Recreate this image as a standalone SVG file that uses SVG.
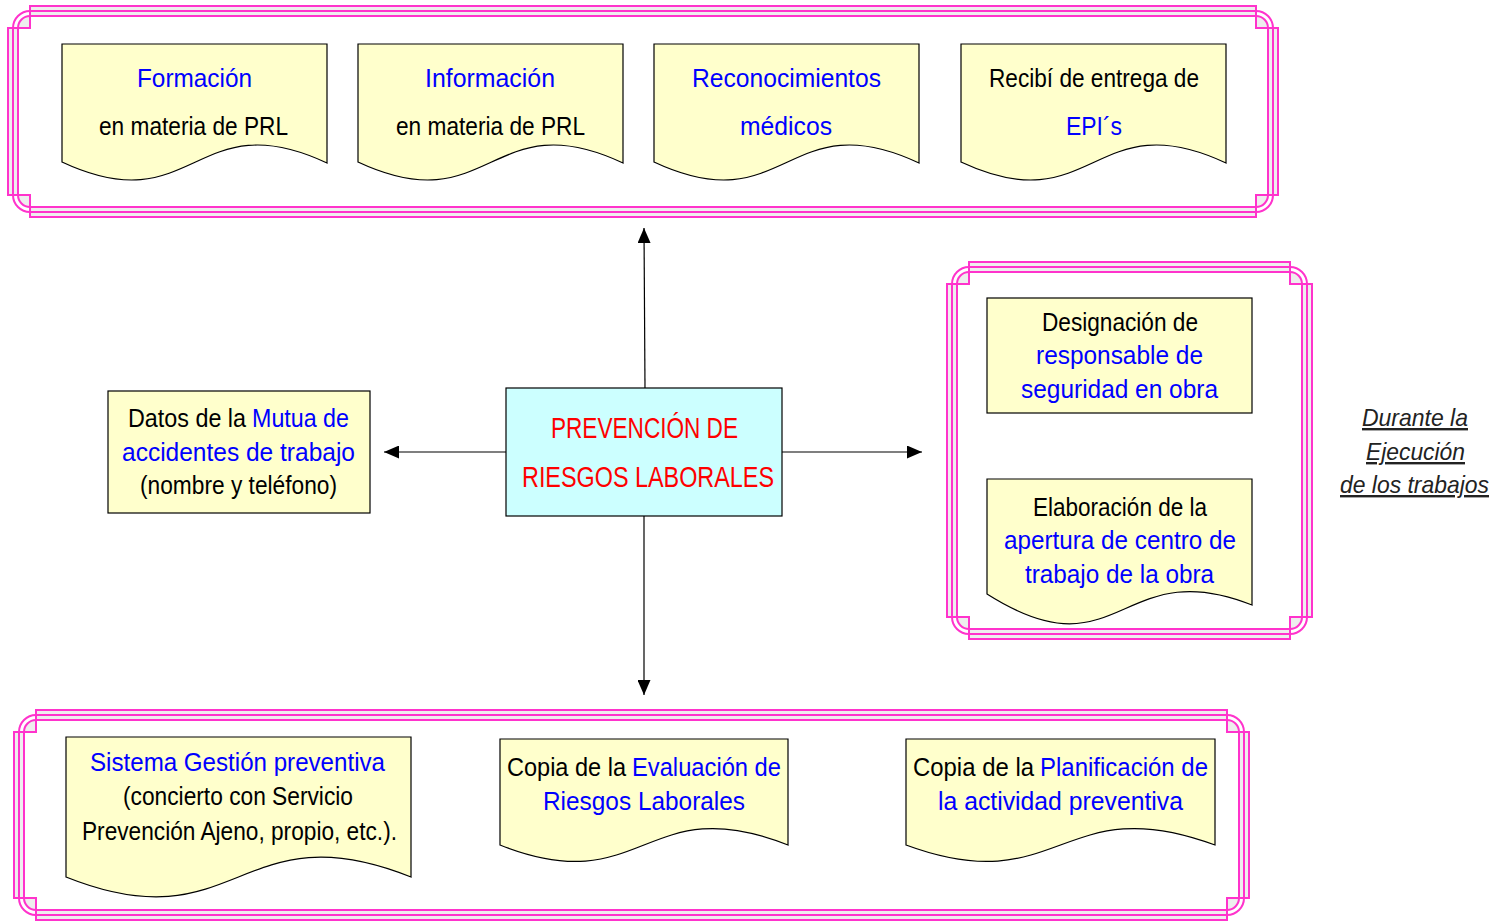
<svg xmlns="http://www.w3.org/2000/svg" width="1495" height="921" viewBox="0 0 1495 921">
<defs>
<style>
.frameBand{fill:#eeeeee;fill-rule:evenodd;stroke:none}
.frameLine{fill:none;stroke:#ff33cc;stroke-width:2}
.doc{fill:#ffffcc;stroke:#000;stroke-width:1.2}
.ctr{fill:#ccffff;stroke:#000;stroke-width:1.2}
.t{font-family:"Liberation Sans Narrow","Liberation Sans",Arial,sans-serif;font-size:25.5px}
.k{fill:#000}
.b{fill:#0000ff}
.r{fill:#ff0000;font-size:30px}
.it{font-style:italic;font-size:24px;fill:#222;text-decoration:underline}
.conn{fill:none;stroke:#000;stroke-width:1.2}
</style>
<marker id="arr" viewBox="0 0 15 13" refX="15" refY="6.5" markerWidth="15" markerHeight="13" markerUnits="userSpaceOnUse" orient="auto">
<path d="M0,0 L15,6.5 L0,13 Z" fill="#000"/>
</marker>
</defs>
<rect width="1495" height="921" fill="#fff"/>

<g id="frame-top">
<path class="frameBand" d="M8,28 H30 V6 H1256 V28 H1278 V195 H1256 V217 H30 V195 H8 Z M30,16 H1256 A12,12 0 0 1 1268,28 V195 A12,12 0 0 1 1256,207 H30 A12,12 0 0 1 18,195 V28 A12,12 0 0 1 30,16 Z"/>
<path class="frameLine" d="M8,28 H30 V6 H1256 V28 H1278 V195 H1256 V217 H30 V195 H8 Z"/>
<rect class="frameLine" x="13" y="11" width="1260" height="201" rx="17"/>
<rect class="frameLine" x="18" y="16" width="1250" height="191" rx="12"/>
</g>
<g id="frame-right">
<path class="frameBand" d="M947,284 H969 V262 H1290 V284 H1312 V617 H1290 V639 H969 V617 H947 Z M969,272 H1290 A12,12 0 0 1 1302,284 V617 A12,12 0 0 1 1290,629 H969 A12,12 0 0 1 957,617 V284 A12,12 0 0 1 969,272 Z"/>
<path class="frameLine" d="M947,284 H969 V262 H1290 V284 H1312 V617 H1290 V639 H969 V617 H947 Z"/>
<rect class="frameLine" x="952" y="267" width="355" height="367" rx="17"/>
<rect class="frameLine" x="957" y="272" width="345" height="357" rx="12"/>
</g>
<g id="frame-bottom">
<path class="frameBand" d="M14,732 H36 V710 H1227 V732 H1249 V898 H1227 V920 H36 V898 H14 Z M36,720 H1227 A12,12 0 0 1 1239,732 V898 A12,12 0 0 1 1227,910 H36 A12,12 0 0 1 24,898 V732 A12,12 0 0 1 36,720 Z"/>
<path class="frameLine" d="M14,732 H36 V710 H1227 V732 H1249 V898 H1227 V920 H36 V898 H14 Z"/>
<rect class="frameLine" x="19" y="715" width="1225" height="200" rx="17"/>
<rect class="frameLine" x="24" y="720" width="1215" height="190" rx="12"/>
</g>

<g id="connectors">
<path class="conn" d="M645,388 L644,228" marker-end="url(#arr)"/>
<path class="conn" d="M644,516 L644,695" marker-end="url(#arr)"/>
<path class="conn" d="M506,452 L384,452" marker-end="url(#arr)"/>
<path class="conn" d="M782,452 L922,452" marker-end="url(#arr)"/>
</g>

<g id="doc-formacion">
<path class="doc" d="M62,44 H327 V163 C194.5,101 194.5,224 62,162 Z"/>
<text class="t b" x="137" y="87" textLength="115" lengthAdjust="spacingAndGlyphs">Formación</text>
<text class="t k" x="99" y="135" textLength="189" lengthAdjust="spacingAndGlyphs">en materia de PRL</text>
</g>
<g id="doc-informacion">
<path class="doc" d="M358,44 H623 V163 C490.5,101 490.5,224 358,162 Z"/>
<text class="t b" x="425" y="87" textLength="130" lengthAdjust="spacingAndGlyphs">Información</text>
<text class="t k" x="396" y="135" textLength="189" lengthAdjust="spacingAndGlyphs">en materia de PRL</text>
</g>
<g id="doc-reconocimientos">
<path class="doc" d="M654,44 H919 V163 C786.5,101 786.5,224 654,162 Z"/>
<text class="t b" x="692" y="87" textLength="189" lengthAdjust="spacingAndGlyphs">Reconocimientos</text>
<text class="t b" x="740" y="135" textLength="92" lengthAdjust="spacingAndGlyphs">médicos</text>
</g>
<g id="doc-epis">
<path class="doc" d="M961,44 H1226 V163 C1093.5,101 1093.5,224 961,162 Z"/>
<text class="t k" x="989" y="87" textLength="210" lengthAdjust="spacingAndGlyphs">Recibí de entrega de</text>
<text class="t b" x="1066" y="135" textLength="56" lengthAdjust="spacingAndGlyphs">EPI´s</text>
</g>

<g id="center">
<rect class="ctr" x="506" y="388" width="276" height="128"/>
<text class="t r" x="551" y="438" textLength="187" lengthAdjust="spacingAndGlyphs">PREVENCIÓN DE</text>
<text class="t r" x="522" y="487" textLength="252" lengthAdjust="spacingAndGlyphs">RIESGOS LABORALES</text>
</g>

<g id="mutua">
<rect class="doc" x="108" y="391" width="262" height="122"/>
<text class="t k" x="128" y="427" textLength="118" lengthAdjust="spacingAndGlyphs">Datos de la</text>
<text class="t b" x="252" y="427" textLength="97" lengthAdjust="spacingAndGlyphs">Mutua de</text>
<text class="t b" x="122" y="461" textLength="233" lengthAdjust="spacingAndGlyphs">accidentes de trabajo</text>
<text class="t k" x="140" y="494" textLength="197" lengthAdjust="spacingAndGlyphs">(nombre y teléfono)</text>
</g>

<g id="designacion">
<rect class="doc" x="987" y="298" width="265" height="115"/>
<text class="t k" x="1042" y="331" textLength="156" lengthAdjust="spacingAndGlyphs">Designación de</text>
<text class="t b" x="1036" y="364" textLength="167" lengthAdjust="spacingAndGlyphs">responsable de</text>
<text class="t b" x="1021" y="398" textLength="197" lengthAdjust="spacingAndGlyphs">seguridad en obra</text>
</g>
<g id="apertura">
<path class="doc" d="M987,479 H1252 V605 C1119.5,552 1119.5,678 987,594 Z"/>
<text class="t k" x="1033" y="516" textLength="174" lengthAdjust="spacingAndGlyphs">Elaboración de la</text>
<text class="t b" x="1004" y="549" textLength="232" lengthAdjust="spacingAndGlyphs">apertura de centro de</text>
<text class="t b" x="1025" y="583" textLength="189" lengthAdjust="spacingAndGlyphs">trabajo de la obra</text>
</g>

<g id="durante">
<text class="t it" x="1362" y="426" textLength="106" lengthAdjust="spacingAndGlyphs">Durante la</text>
<text class="t it" x="1366" y="460" textLength="99" lengthAdjust="spacingAndGlyphs">Ejecución</text>
<text class="t it" x="1340" y="493" textLength="149" lengthAdjust="spacingAndGlyphs">de los trabajos</text>
</g>

<g id="doc-sistema">
<path class="doc" d="M66,737 H411 V877 C238.5,808 238.5,946 66,877 Z"/>
<text class="t b" x="90" y="771" textLength="295" lengthAdjust="spacingAndGlyphs">Sistema Gestión preventiva</text>
<text class="t k" x="123" y="805" textLength="230" lengthAdjust="spacingAndGlyphs">(concierto con Servicio</text>
<text class="t k" x="82" y="840" textLength="315" lengthAdjust="spacingAndGlyphs">Prevención Ajeno, propio, etc.).</text>
</g>
<g id="doc-evaluacion">
<path class="doc" d="M500,739 H788 V845 C644,788 644,902 500,845 Z"/>
<text class="t k" x="507" y="776" textLength="119" lengthAdjust="spacingAndGlyphs">Copia de la</text>
<text class="t b" x="632" y="776" textLength="149" lengthAdjust="spacingAndGlyphs">Evaluación de</text>
<text class="t b" x="543" y="810" textLength="202" lengthAdjust="spacingAndGlyphs">Riesgos Laborales</text>
</g>
<g id="doc-planificacion">
<path class="doc" d="M906,739 H1215 V845 C1060.5,788 1060.5,902 906,845 Z"/>
<text class="t k" x="913" y="776" textLength="121" lengthAdjust="spacingAndGlyphs">Copia de la</text>
<text class="t b" x="1040" y="776" textLength="168" lengthAdjust="spacingAndGlyphs">Planificación de</text>
<text class="t b" x="938" y="810" textLength="245" lengthAdjust="spacingAndGlyphs">la actividad preventiva</text>
</g>
</svg>
